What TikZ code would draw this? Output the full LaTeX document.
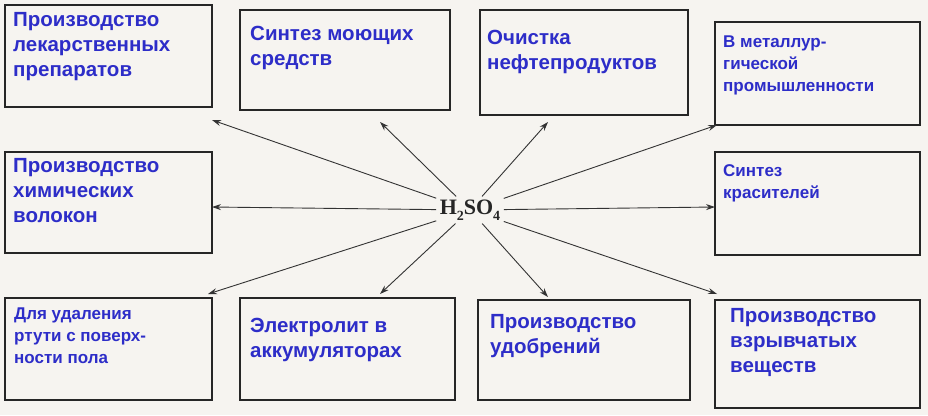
\documentclass[tikz,border=0pt]{standalone}
\usepackage{fontspec}
\setmainfont{Liberation Sans}
\newfontfamily\serf{Liberation Serif}
\usetikzlibrary{arrows.meta}
\definecolor{txt}{RGB}{45,45,200}
\definecolor{bg}{RGB}{246,244,240}
\begin{document}
\begin{tikzpicture}[x=1pt,y=-1pt,
  lab/.style={anchor=north west,align=left,text=txt,font=\bfseries\fontsize{20.5}{25}\selectfont,inner sep=0pt},
  sml/.style={lab,font=\bfseries\fontsize{17}{22}\selectfont},
  ar/.style={-{Stealth[length=9pt,width=6pt]},line width=0.9pt,black!80}]
\fill[bg] (0,0) rectangle (928,415);
\useasboundingbox (0,0) rectangle (928,415);
\newcommand\bxx[5]{\draw[line width=1.2pt,black!85] (#2,#3) rectangle (#4,#5); \coordinate (#1) at (#2,#3);}
\bxx{b1}{5}{5}{212}{107}
\bxx{b2}{240}{10}{450}{110}
\bxx{b3}{480}{10}{688}{115}
\bxx{b4}{715}{22}{920}{125}
\bxx{b5}{5}{152}{212}{253}
\bxx{b6}{715}{152}{920}{255}
\bxx{b7}{5}{298}{212}{400}
\bxx{b8}{240}{298}{455}{400}
\bxx{b9}{478}{300}{690}{400}
\bxx{b10}{715}{300}{920}{408}
\node[lab] at (13,12) {Производство\\лекарственных\\препаратов};
\node[lab] at (250,26) {Синтез моющих\\средств};
\node[lab] at (487,30) {Очистка\\нефтепродуктов};
\node[sml] at (723,36) {В металлур-\\гической\\промышленности};
\node[lab] at (13,158) {Производство\\химических\\волокон};
\node[sml] at (723,164) {Синтез\\красителей};
\node[sml] at (14,308) {Для удаления\\ртути с поверх-\\ности пола};
\node[lab] at (250,318) {Электролит в\\аккумуляторах};
\node[lab] at (490,314) {Производство\\удобрений};
\node[lab] at (730,308) {Производство\\взрывчатых\\веществ};
\node[font=\serf\bfseries\fontsize{22}{24}\selectfont,text=black!85] (h) at (470,210) {H\raisebox{-0.25em}{\fontsize{14}{14}\selectfont 2}SO\raisebox{-0.25em}{\fontsize{14}{14}\selectfont 4}};
\coordinate (e1) at (212,120); \coordinate (e2) at (380,122);
\coordinate (e3) at (548,122); \coordinate (e4) at (717,125);
\coordinate (e5) at (212,207); \coordinate (e6) at (715,207);
\coordinate (e7) at (208,294); \coordinate (e8) at (380,294);
\coordinate (e9) at (548,297); \coordinate (e10) at (717,294);
\foreach \e in {e1,e2,e3,e4,e5,e6,e7,e8,e9,e10} \draw[ar] (h) -- (\e);
\end{tikzpicture}
\end{document}
